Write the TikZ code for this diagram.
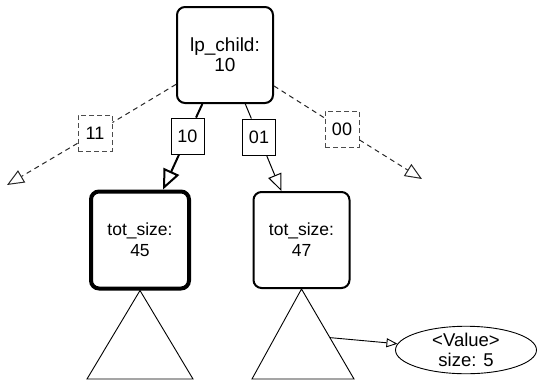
\documentclass[tikz,border=0pt]{standalone}
\usepackage{fontspec}
\setmainfont{Liberation Sans}
\usetikzlibrary{arrows.meta,shapes.geometric}
\begin{document}
\begin{tikzpicture}[x=1pt,y=-1pt,
  every node/.style={font=\fontsize{18}{20}\selectfont, align=center, inner sep=0pt},
  bigbox/.style={draw, rounded corners=8pt, line width=2pt, minimum width=96pt, minimum height=96pt},
  thickbox/.style={bigbox, line width=4pt, minimum width=98pt, minimum height=97pt},
  bitbox/.style={draw, line width=0.9pt, minimum width=33pt, minimum height=36pt},
  dashbox/.style={draw=black!70, dash pattern=on 5pt off 3pt, line width=1pt, minimum width=34pt, minimum height=36pt},
  openhead/.style={-{Triangle[open,length=17pt,width=14pt]}},
  dashlink/.style={draw=black!85, dash pattern=on 5pt off 4pt, line width=1pt},
  rootfont/.style={font=\fontsize{19}{20}\selectfont},
  sizefont/.style={font=\fontsize{17.5}{21}\selectfont}
]
\useasboundingbox (0,0) rectangle (538,381);

% inner node and its children
\node[bigbox, rootfont] (root) at (225,55) {lp\_child:\\10};
\node[thickbox, sizefont] (left) at (140,240) {tot\_size:\\45};
\node[bigbox, sizefont] (right) at (301.5,240) {tot\_size:\\47};

% edge labels
\node[bitbox] (b10) at (187.5,136) {10};
\node[bitbox] (b01) at (259,137) {01};
\node[dashbox] (b11) at (95,133) {11};
\node[dashbox] (b00) at (342,129) {00};

% free ends of the empty slots
\coordinate (e11) at (7,185);
\coordinate (e00) at (422,179);

% solid edges
\draw[line width=2pt] (root) -- (b10);
\draw[line width=2pt, -{Triangle[open,length=20pt,width=17pt,line width=2pt]}] (b10) -- (left);
\draw[line width=1pt] (root) -- (b01);
\draw[line width=1pt, openhead] (b01) -- (right);

% dashed edges to empty slots
\draw[dashlink] (root) -- (b11);
\draw[dashlink, openhead] (b11) -- (e11);
\draw[dashlink] (root) -- (b00);
\draw[dashlink, openhead] (b00) -- (e00);

% subtrees
\draw[line width=0.9pt] (left.south) -- (193,379) -- (87,379) -- cycle;
\draw[line width=0.9pt] (right.south) -- (354,379) coordinate[pos=0.54] (side) -- (252,379) -- cycle;

% stored value
\node[draw, ellipse, line width=0.9pt, minimum width=141pt, minimum height=47pt, font=\fontsize{18.5}{20}\selectfont] (val) at (466,350) {<Value>\\size: 5};
\draw[line width=0.9pt, -{Triangle[open,length=11pt,width=9pt]}] (side) -- (val);
\end{tikzpicture}
\end{document}
